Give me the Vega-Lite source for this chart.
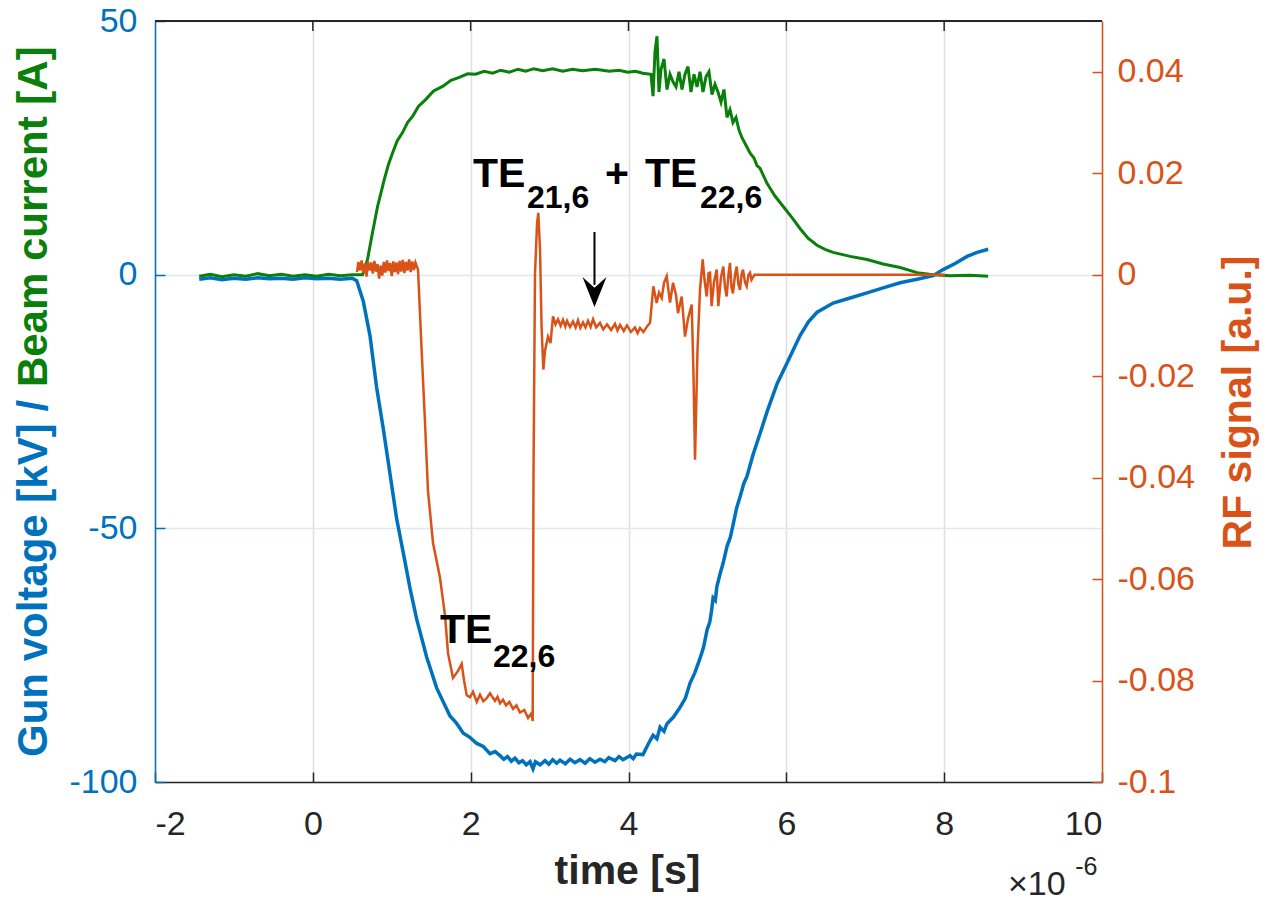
{
  "$schema": "https://vega.github.io/schema/vega-lite/v6.json",
  "width": 947,
  "height": 761,
  "autosize": {"type": "none"},
  "padding": {"left": 155, "top": 21, "right": 174, "bottom": 120},
  "background": "white",
  "config": {"view": {"stroke": null}, "font": "Liberation Sans"},
  "datasets": {
    "gun": [
      {"t":-1.44,"v":-0.9},{"t":-1.3,"v":-0.6},{"t":-1.15,"v":-1.0},{"t":-1.0,"v":-0.7},{"t":-0.85,"v":-0.9},{"t":-0.7,"v":-0.6},{"t":-0.55,"v":-0.8},{"t":-0.4,"v":-0.7},{"t":-0.25,"v":-0.9},{"t":-0.1,"v":-0.6},{"t":0.05,"v":-0.8},{"t":0.2,"v":-0.7},{"t":0.35,"v":-0.9},{"t":0.5,"v":-0.7},
      {"t":0.556,"v":-1.2},{"t":0.64,"v":-5.3},{"t":0.724,"v":-12},{"t":0.809,"v":-22.3},{"t":0.893,"v":-30.4},{"t":0.978,"v":-39.3},{"t":1.063,"v":-48.2},{"t":1.147,"v":-54.9},{"t":1.231,"v":-61.8},{"t":1.316,"v":-67.9},{"t":1.443,"v":-75.4},{"t":1.57,"v":-81.5},{"t":1.738,"v":-87},{"t":1.82,"v":-88.4},{"t":1.907,"v":-90.4},{"t":1.99,"v":-91.2},{"t":2.077,"v":-92.4},{"t":2.16,"v":-93.0},{"t":2.245,"v":-94.4},{"t":2.31,"v":-94.0},{"t":2.372,"v":-94.8},{"t":2.42,"v":-95.5},{"t":2.467,"v":-95.0},{"t":2.515,"v":-95.9},{"t":2.562,"v":-95.3},{"t":2.61,"v":-96.2},{"t":2.657,"v":-95.8},{"t":2.705,"v":-96.6},{"t":2.752,"v":-96.0},{"t":2.79,"v":-97.4},{"t":2.82,"v":-96.0},{"t":2.88,"v":-96.6},{"t":2.942,"v":-95.8},{"t":2.99,"v":-96.5},{"t":3.04,"v":-95.6},{"t":3.09,"v":-96.3},{"t":3.132,"v":-95.7},{"t":3.2,"v":-96.4},{"t":3.26,"v":-95.5},{"t":3.32,"v":-96.2},{"t":3.386,"v":-95.6},{"t":3.45,"v":-96.3},{"t":3.51,"v":-95.4},{"t":3.575,"v":-96.1},{"t":3.639,"v":-95.5},{"t":3.7,"v":-96.0},{"t":3.75,"v":-95.2},{"t":3.829,"v":-95.8},{"t":3.88,"v":-95.0},{"t":3.93,"v":-95.6},{"t":4.019,"v":-94.8},{"t":4.06,"v":-95.4},{"t":4.1,"v":-94.5},{"t":4.184,"v":-94.6},{"t":4.25,"v":-92.5},{"t":4.311,"v":-90.8},{"t":4.36,"v":-91.5},{"t":4.4,"v":-89.2},{"t":4.45,"v":-90.0},{"t":4.488,"v":-88.5},{"t":4.57,"v":-87.2},{"t":4.653,"v":-85.3},{"t":4.72,"v":-83.5},{"t":4.78,"v":-80.5},{"t":4.84,"v":-78.5},{"t":4.907,"v":-75.6},{"t":4.95,"v":-73.5},{"t":4.996,"v":-70},{"t":5.03,"v":-68.5},{"t":5.05,"v":-66.5},{"t":5.072,"v":-63.7},{"t":5.1,"v":-64.2},{"t":5.12,"v":-61.5},{"t":5.16,"v":-59},{"t":5.2,"v":-56.8},{"t":5.249,"v":-53.5},{"t":5.29,"v":-51.8},{"t":5.325,"v":-49.3},{"t":5.37,"v":-46.0},{"t":5.414,"v":-43.8},{"t":5.46,"v":-41.2},{"t":5.502,"v":-39.7},{"t":5.578,"v":-35.5},{"t":5.667,"v":-31.3},{"t":5.756,"v":-27},{"t":5.883,"v":-21.5},{"t":6.009,"v":-17.4},{"t":6.174,"v":-12},{"t":6.28,"v":-9.3},{"t":6.39,"v":-7.4},{"t":6.593,"v":-5.6},{"t":6.808,"v":-4.6},{"t":7.023,"v":-3.6},{"t":7.226,"v":-2.6},{"t":7.442,"v":-1.6},{"t":7.657,"v":-0.9},{"t":7.86,"v":-0.2},{"t":7.987,"v":1.0},{"t":8.139,"v":2.2},{"t":8.291,"v":3.6},{"t":8.418,"v":4.4},{"t":8.558,"v":5.0}
    ],
    "beam": [
      {"t":-1.44,"v":-0.3},{"t":-1.3,"v":0.1},{"t":-1.15,"v":-0.4},{"t":-1.0,"v":0.0},{"t":-0.85,"v":-0.3},{"t":-0.7,"v":0.2},{"t":-0.55,"v":-0.2},{"t":-0.4,"v":0.1},{"t":-0.25,"v":-0.3},{"t":-0.1,"v":0.0},{"t":0.05,"v":-0.3},{"t":0.2,"v":0.1},{"t":0.35,"v":-0.2},{"t":0.5,"v":0.0},{"t":0.63,"v":0.0},
      {"t":0.693,"v":3},{"t":0.756,"v":8.3},{"t":0.82,"v":13.4},{"t":0.904,"v":18.7},{"t":0.96,"v":21.8},{"t":1.01,"v":24},{"t":1.07,"v":26.4},{"t":1.137,"v":28},{"t":1.2,"v":30.0},{"t":1.264,"v":31.2},{"t":1.34,"v":33.2},{"t":1.429,"v":34.5},{"t":1.53,"v":36.2},{"t":1.644,"v":37.1},{"t":1.75,"v":38.3},{"t":1.856,"v":38.9},{"t":1.96,"v":39.6},{"t":2.062,"v":39.5},{"t":2.17,"v":40.1},{"t":2.278,"v":39.7},{"t":2.38,"v":40.3},{"t":2.49,"v":39.9},{"t":2.6,"v":40.5},{"t":2.697,"v":40.1},{"t":2.8,"v":40.6},{"t":2.912,"v":40.2},{"t":3.04,"v":40.6},{"t":3.166,"v":40.1},{"t":3.29,"v":40.5},{"t":3.419,"v":40.2},{"t":3.58,"v":40.5},{"t":3.757,"v":40.1},{"t":3.88,"v":40.3},{"t":3.99,"v":39.9},{"t":4.09,"v":40.1},{"t":4.18,"v":39.7},{"t":4.285,"v":39.5},{"t":4.311,"v":35.2},{"t":4.336,"v":44},{"t":4.361,"v":47},{"t":4.386,"v":36},{"t":4.412,"v":40.5},{"t":4.45,"v":42.5},{"t":4.488,"v":36.5},{"t":4.526,"v":39.5},{"t":4.564,"v":38},{"t":4.602,"v":37},{"t":4.64,"v":40},{"t":4.678,"v":36.5},{"t":4.716,"v":39.5},{"t":4.754,"v":41},{"t":4.792,"v":36},{"t":4.83,"v":39.5},{"t":4.868,"v":37},{"t":4.906,"v":40},{"t":4.944,"v":36},{"t":4.982,"v":39},{"t":5.02,"v":40},{"t":5.058,"v":35.5},{"t":5.096,"v":37.5},{"t":5.134,"v":36},{"t":5.172,"v":34},{"t":5.21,"v":36.5},{"t":5.248,"v":31},{"t":5.286,"v":32.5},{"t":5.324,"v":30},{"t":5.362,"v":31},{"t":5.4,"v":28.5},{"t":5.438,"v":27},{"t":5.489,"v":25.5},{"t":5.539,"v":24},{"t":5.59,"v":23},{"t":5.628,"v":21.5},{"t":5.666,"v":21},{"t":5.755,"v":18},{"t":5.856,"v":15.5},{"t":5.983,"v":13},{"t":6.084,"v":11},{"t":6.173,"v":9.1},{"t":6.275,"v":7.2},{"t":6.389,"v":5.8},{"t":6.49,"v":5.0},{"t":6.592,"v":4.4},{"t":6.7,"v":4.0},{"t":6.808,"v":3.6},{"t":6.92,"v":3.3},{"t":7.023,"v":3.0},{"t":7.226,"v":2.1},{"t":7.442,"v":1.4},{"t":7.657,"v":0.4},{"t":7.86,"v":0.0},{"t":8.076,"v":-0.2},{"t":8.329,"v":-0.1},{"t":8.557,"v":-0.3}
    ],
    "rf": [
      {"t":0.559,"v":0.0005},{"t":0.578,"v":0.0025},{"t":0.597,"v":0.0008},{"t":0.618,"v":0.0028},{"t":0.638,"v":0.0004},{"t":0.66,"v":0.0022},{"t":0.68,"v":-0.0004},{"t":0.699,"v":0.0026},{"t":0.72,"v":0.0008},{"t":0.74,"v":0.0024},{"t":0.76,"v":0.0002},{"t":0.78,"v":0.0027},{"t":0.8,"v":0.0006},{"t":0.82,"v":0.0021},{"t":0.84,"v":-0.0008},{"t":0.86,"v":0.0018},{"t":0.88,"v":-0.0002},{"t":0.9,"v":0.0025},{"t":0.92,"v":0.0004},{"t":0.94,"v":0.0028},{"t":0.96,"v":0.0007},{"t":0.98,"v":0.0023},{"t":1.0,"v":-0.0003},{"t":1.02,"v":0.0026},{"t":1.04,"v":0.0005},{"t":1.06,"v":0.0024},{"t":1.08,"v":0.0001},{"t":1.1,"v":0.0027},{"t":1.12,"v":0.0006},{"t":1.14,"v":0.0029},{"t":1.16,"v":0.0003},{"t":1.18,"v":0.0025},{"t":1.2,"v":0.0008},{"t":1.22,"v":0.003},{"t":1.24,"v":0.0005},{"t":1.26,"v":0.0026},{"t":1.28,"v":0.0009},{"t":1.3,"v":0.0024},{"t":1.333,"v":0.001},
      {"t":1.38,"v":-0.0154},{"t":1.421,"v":-0.029},{"t":1.459,"v":-0.0426},{"t":1.523,"v":-0.0529},{"t":1.611,"v":-0.0597},{"t":1.675,"v":-0.0672},{"t":1.713,"v":-0.0746},{"t":1.776,"v":-0.0795},{"t":1.84,"v":-0.0781},{"t":1.886,"v":-0.0767},{"t":1.916,"v":-0.08},{"t":1.95,"v":-0.0829},{"t":1.992,"v":-0.0833},{"t":2.03,"v":-0.0822},{"t":2.077,"v":-0.0842},{"t":2.118,"v":-0.0828},{"t":2.16,"v":-0.0841},{"t":2.203,"v":-0.0835},{"t":2.245,"v":-0.0825},{"t":2.308,"v":-0.084},{"t":2.34,"v":-0.0832},{"t":2.372,"v":-0.0845},{"t":2.41,"v":-0.0838},{"t":2.448,"v":-0.0849},{"t":2.49,"v":-0.0842},{"t":2.537,"v":-0.0856},{"t":2.58,"v":-0.0849},{"t":2.625,"v":-0.0863},{"t":2.68,"v":-0.0858},{"t":2.727,"v":-0.0874},{"t":2.773,"v":-0.0864},{"t":2.786,"v":-0.088},
      {"t":2.796,"v":-0.04},{"t":2.815,"v":0.0},{"t":2.841,"v":0.01},{"t":2.857,"v":0.0122},{"t":2.879,"v":0.005},{"t":2.898,"v":-0.01},{"t":2.921,"v":-0.0187},{"t":2.942,"v":-0.015},{"t":2.98,"v":-0.0122},{"t":3.012,"v":-0.0135},{"t":3.043,"v":-0.0082},{"t":3.075,"v":-0.0098},{"t":3.107,"v":-0.0088},{"t":3.14,"v":-0.0101},{"t":3.17,"v":-0.0089},{"t":3.2,"v":-0.0102},{"t":3.221,"v":-0.0091},{"t":3.26,"v":-0.0103},{"t":3.297,"v":-0.0092},{"t":3.33,"v":-0.0104},{"t":3.36,"v":-0.009},{"t":3.39,"v":-0.0105},{"t":3.424,"v":-0.0094},{"t":3.455,"v":-0.0104},{"t":3.487,"v":-0.0091},{"t":3.52,"v":-0.0103},{"t":3.551,"v":-0.0088},{"t":3.59,"v":-0.0104},{"t":3.639,"v":-0.0095},{"t":3.68,"v":-0.0108},{"t":3.728,"v":-0.0098},{"t":3.78,"v":-0.0109},{"t":3.829,"v":-0.0097},{"t":3.86,"v":-0.011},{"t":3.893,"v":-0.0099},{"t":3.94,"v":-0.0111},{"t":3.981,"v":-0.01},{"t":4.03,"v":-0.0113},{"t":4.082,"v":-0.0104},{"t":4.115,"v":-0.0115},{"t":4.146,"v":-0.0105},{"t":4.19,"v":-0.0113},{"t":4.235,"v":-0.0102},{"t":4.273,"v":-0.0095},
      {"t":4.315,"v":-0.0023},{"t":4.357,"v":-0.0056},{"t":4.387,"v":-0.0035},{"t":4.421,"v":-0.0046},{"t":4.45,"v":-0.0016},{"t":4.484,"v":-0.0003},{"t":4.526,"v":-0.0055},{"t":4.564,"v":-0.0016},{"t":4.602,"v":-0.004},{"t":4.627,"v":-0.0076},{"t":4.674,"v":-0.0043},{"t":4.716,"v":-0.0122},{"t":4.754,"v":-0.0087},{"t":4.801,"v":-0.0059},{"t":4.824,"v":-0.02},{"t":4.843,"v":-0.0365},{"t":4.874,"v":-0.015},{"t":4.906,"v":-0.003},{"t":4.94,"v":0.003},{"t":4.963,"v":-0.001},{"t":4.991,"v":-0.0043},{"t":5.014,"v":0.0003},{"t":5.033,"v":0.0004},{"t":5.053,"v":-0.0062},{"t":5.083,"v":-0.0015},{"t":5.118,"v":0.001},{"t":5.138,"v":-0.0062},{"t":5.172,"v":-0.0005},{"t":5.201,"v":0.0016},{"t":5.223,"v":-0.0025},{"t":5.244,"v":-0.0043},{"t":5.267,"v":0.0},{"t":5.286,"v":0.0023},{"t":5.305,"v":-0.0025},{"t":5.324,"v":-0.0037},{"t":5.35,"v":0.0},{"t":5.371,"v":0.0016},{"t":5.394,"v":-0.002},{"t":5.413,"v":-0.003},{"t":5.432,"v":0.0},{"t":5.451,"v":0.001},{"t":5.476,"v":-0.0015},{"t":5.498,"v":-0.0023},{"t":5.521,"v":0.0},{"t":5.54,"v":0.0004},{"t":5.559,"v":-0.001},{"t":5.578,"v":-0.0005},{"t":5.597,"v":0.0},{"t":8.01,"v":0.0}
    ]
  },
  "layer": [
    {
      "layer": [
        {
          "data": {"name": "gun"},
          "mark": {"type": "line", "color": "#0072BD", "strokeWidth": 3.5},
          "encoding": {
            "x": {"field": "t", "type": "quantitative", "scale": {"domain": [-2, 10], "nice": false},
              "axis": {"orient": "bottom", "values": [-2, 0, 2, 4, 6, 8, 10], "labelExpr": "'' + datum.value",
                "title": "time [s]", "titleFont": "Liberation Sans", "titleFontSize": 41, "titleFontWeight": "bold", "titleColor": "#262626",
                "titleX": 472, "titleY": 101, "titleAlign": "center", "titleBaseline": "alphabetic",
                "labelFont": "Liberation Sans", "labelFontSize": 34, "labelColor": "#262626", "labelPadding": 35,
                "domainColor": "#262626", "domainWidth": 1.5, "tickColor": "#262626", "tickSize": -10, "tickWidth": 1.5,
                "grid": true, "gridColor": "#e0e0e0", "gridWidth": 1.5}},
            "y": {"field": "v", "type": "quantitative", "scale": {"domain": [-100, 50], "nice": false, "zero": false},
              "axis": {"orient": "left", "values": [-100, -50, 0, 50], "labelExpr": "'' + datum.value", "title": null,
                "labelFont": "Liberation Sans", "labelFontSize": 34, "labelColor": "#0072BD", "labelPadding": 28,
                "domainColor": "#0072BD", "domainWidth": 1.5, "tickColor": "#0072BD", "tickSize": -10, "tickWidth": 1.5,
                "grid": true, "gridColor": "#d9eaf5", "gridWidth": 1.5}}
          }
        },
        {
          "data": {"name": "beam"},
          "mark": {"type": "line", "color": "#0A800A", "strokeWidth": 3},
          "encoding": {
            "x": {"field": "t", "type": "quantitative", "scale": {"domain": [-2, 10], "nice": false}},
            "y": {"field": "v", "type": "quantitative", "scale": {"domain": [-100, 50], "nice": false, "zero": false}}
          }
        }
      ]
    },
    {
      "data": {"name": "rf"},
      "mark": {"type": "line", "color": "#D95319", "strokeWidth": 2.5},
      "encoding": {
        "x": {"field": "t", "type": "quantitative", "scale": {"domain": [-2, 10], "nice": false}, "axis": null},
        "y": {"field": "v", "type": "quantitative", "scale": {"domain": [-0.1, 0.05], "nice": false, "zero": false},
          "axis": {"orient": "right", "values": [-0.1, -0.08, -0.06, -0.04, -0.02, 0, 0.02, 0.04], "labelExpr": "'' + datum.value",
            "title": "RF signal [a.u.]", "titleFont": "Liberation Sans", "titleFontSize": 41, "titleFontWeight": "bold", "titleColor": "#D95319",
            "titleAngle": 270, "titleX": 148, "titleY": 381, "titleAlign": "center", "titleBaseline": "alphabetic",
            "labelFont": "Liberation Sans", "labelFontSize": 34, "labelColor": "#D95319", "labelPadding": 25,
            "domainColor": "#D95319", "domainWidth": 1.5, "tickColor": "#D95319", "tickSize": -10, "tickWidth": 1.5, "grid": false}}
      }
    },
    {
      "layer": [
        {
          "data": {"values": [{"t": -2, "t2": 10, "v": 50}]},
          "mark": {"type": "rule", "color": "#262626", "strokeWidth": 2},
          "encoding": {
            "x": {"field": "t", "type": "quantitative", "scale": {"domain": [-2, 10], "nice": false}, "axis": null},
            "x2": {"field": "t2"},
            "y": {"field": "v", "type": "quantitative", "scale": {"domain": [-100, 50], "nice": false, "zero": false}, "axis": null}
          }
        },
        {
          "data": {"values": [{"t": 0, "v": 50, "v2": 48.03}, {"t": 2, "v": 50, "v2": 48.03}, {"t": 4, "v": 50, "v2": 48.03}, {"t": 6, "v": 50, "v2": 48.03}, {"t": 8, "v": 50, "v2": 48.03}]},
          "mark": {"type": "rule", "color": "#262626", "strokeWidth": 1.5},
          "encoding": {
            "x": {"field": "t", "type": "quantitative", "scale": {"domain": [-2, 10], "nice": false}, "axis": null},
            "y": {"field": "v", "type": "quantitative", "scale": {"domain": [-100, 50], "nice": false, "zero": false}, "axis": null},
            "y2": {"field": "v2"}
          }
        },
        {
          "data": {"values": [{"t": 2.030, "v": 17.28, "label": "TE"}, {"t": 3.702, "v": 17.28, "label": "+"}, {"t": 4.209, "v": 17.28, "label": "TE"}, {"t": 1.611, "v": -72.6, "label": "TE"}]},
          "mark": {"type": "text", "font": "Liberation Sans", "fontWeight": "bold", "fontSize": 41, "color": "#000000", "align": "left", "baseline": "alphabetic"},
          "encoding": {
            "x": {"field": "t", "type": "quantitative", "scale": {"domain": [-2, 10], "nice": false}, "axis": null},
            "y": {"field": "v", "type": "quantitative", "scale": {"domain": [-100, 50], "nice": false, "zero": false}, "axis": null},
            "text": {"field": "label"}
          }
        },
        {
          "data": {"values": [{"t": 2.714, "v": 13.14, "label": "21,6"}, {"t": 4.906, "v": 13.14, "label": "22,6"}, {"t": 2.283, "v": -77.33, "label": "22,6"}]},
          "mark": {"type": "text", "font": "Liberation Sans", "fontWeight": "bold", "fontSize": 32, "color": "#000000", "align": "left", "baseline": "alphabetic"},
          "encoding": {
            "x": {"field": "t", "type": "quantitative", "scale": {"domain": [-2, 10], "nice": false}, "axis": null},
            "y": {"field": "v", "type": "quantitative", "scale": {"domain": [-100, 50], "nice": false, "zero": false}, "axis": null},
            "text": {"field": "label"}
          }
        },
        {
          "data": {"values": [{"t": 3.569, "v": 8.41, "v2": -2.0}]},
          "mark": {"type": "rule", "color": "#000000", "strokeWidth": 2},
          "encoding": {
            "x": {"field": "t", "type": "quantitative", "scale": {"domain": [-2, 10], "nice": false}, "axis": null},
            "y": {"field": "v", "type": "quantitative", "scale": {"domain": [-100, 50], "nice": false, "zero": false}, "axis": null},
            "y2": {"field": "v2"}
          }
        },
        {
          "data": {"values": [{"t": 3.569, "v": -3.42}]},
          "mark": {"type": "point", "shape": "M0,1.25L-1,-1.25L0,-0.35L1,-1.25Z", "size": 576, "filled": true, "color": "#000000", "opacity": 1, "strokeWidth": 0},
          "encoding": {
            "x": {"field": "t", "type": "quantitative", "scale": {"domain": [-2, 10], "nice": false}, "axis": null},
            "y": {"field": "v", "type": "quantitative", "scale": {"domain": [-100, 50], "nice": false, "zero": false}, "axis": null}
          }
        },
        {
          "data": {"values": [{"t": -3.369, "v": -95.07, "label": "Gun voltage [kV] /"}]},
          "mark": {"type": "text", "font": "Liberation Sans", "fontWeight": "bold", "fontSize": 42, "color": "#0072BD", "align": "left", "baseline": "alphabetic", "angle": 270},
          "encoding": {
            "x": {"field": "t", "type": "quantitative", "scale": {"domain": [-2, 10], "nice": false}, "axis": null},
            "y": {"field": "v", "type": "quantitative", "scale": {"domain": [-100, 50], "nice": false, "zero": false}, "axis": null},
            "text": {"field": "label"}
          }
        },
        {
          "data": {"values": [{"t": -3.369, "v": 45.0, "label": "Beam current [A]"}]},
          "mark": {"type": "text", "font": "Liberation Sans", "fontWeight": "bold", "fontSize": 42, "color": "#0A800A", "align": "right", "baseline": "alphabetic", "angle": 270},
          "encoding": {
            "x": {"field": "t", "type": "quantitative", "scale": {"domain": [-2, 10], "nice": false}, "axis": null},
            "y": {"field": "v", "type": "quantitative", "scale": {"domain": [-100, 50], "nice": false, "zero": false}, "axis": null},
            "text": {"field": "label"}
          }
        },
        {
          "data": {"values": [{"t": 8.809, "v": -122.27, "label": "×10"}]},
          "mark": {"type": "text", "font": "Liberation Sans", "fontSize": 34, "color": "#262626", "align": "left", "baseline": "alphabetic"},
          "encoding": {
            "x": {"field": "t", "type": "quantitative", "scale": {"domain": [-2, 10], "nice": false}, "axis": null},
            "y": {"field": "v", "type": "quantitative", "scale": {"domain": [-100, 50], "nice": false, "zero": false}, "axis": null},
            "text": {"field": "label"}
          }
        },
        {
          "data": {"values": [{"t": 9.66, "v": -118.33, "label": "-6"}]},
          "mark": {"type": "text", "font": "Liberation Sans", "fontSize": 25, "color": "#262626", "align": "left", "baseline": "alphabetic"},
          "encoding": {
            "x": {"field": "t", "type": "quantitative", "scale": {"domain": [-2, 10], "nice": false}, "axis": null},
            "y": {"field": "v", "type": "quantitative", "scale": {"domain": [-100, 50], "nice": false, "zero": false}, "axis": null},
            "text": {"field": "label"}
          }
        }
      ]
    }
  ],
  "resolve": {"scale": {"x": "independent", "y": "independent"}, "axis": {"x": "independent", "y": "independent"}}
}
